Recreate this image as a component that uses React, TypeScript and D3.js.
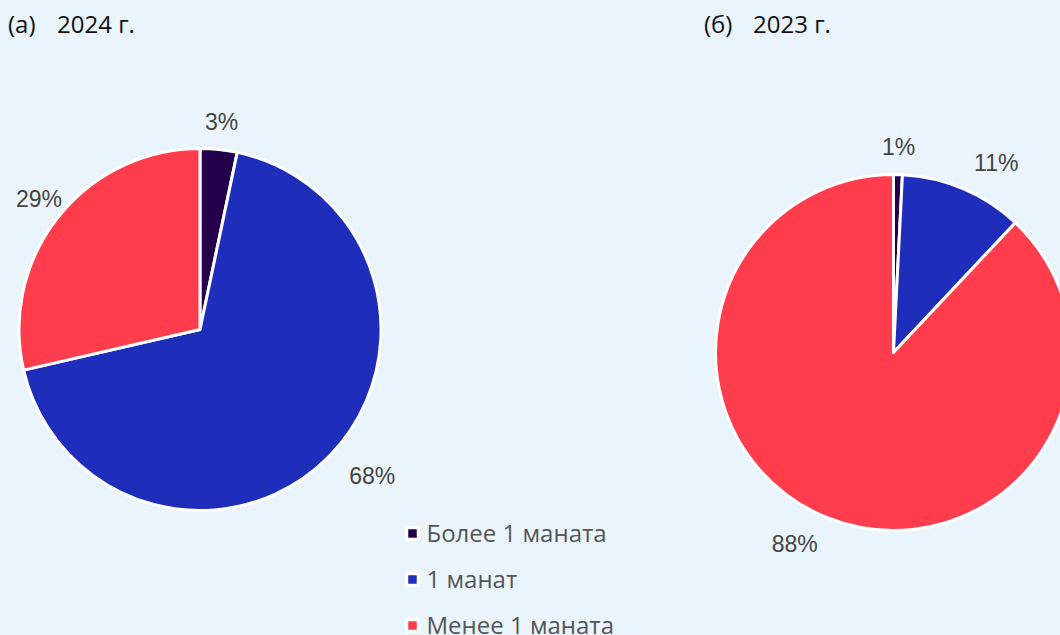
import React, { useEffect, useRef } from 'react';
import * as d3 from 'd3';

const categories = ['Более 1 маната', '1 манат', 'Менее 1 маната'];
const colors = ['#24004b', '#1f2dbb', '#ff3d4c'];
const values2024 = [3.3, 68.1, 28.6];
const values2023 = [0.8, 11.2, 88.0];
const labels2024 = ['3%', '68%', '29%'];
const labels2023 = ['1%', '11%', '88%'];
const titles = [['(а)', '2024 г.'], ['(б)', '2023 г.']];

const App = () => {
  const svgRef = useRef(null);

  useEffect(() => {
    const width = 1060;
    const height = 635;
    const svg = d3.select(svgRef.current)
      .attr('width', width)
      .attr('height', height);
    svg.selectAll('*').remove();

    svg.append('rect')
      .attr('width', width)
      .attr('height', height)
      .attr('fill', '#eaf4fd');

    const pies = [
      { cx: 200, cy: 329.5, r: 181, values: values2024, labels: labels2024, tx: 8 },
      { cx: 893.5, cy: 352.5, r: 178, values: values2023, labels: labels2023, tx: 704 },
    ];

    const pie = d3.pie().sort(null).value(d => d);
    const mid = d => (d.startAngle + d.endAngle) / 2;

    pies.forEach((p, i) => {
      const g = svg.append('g').attr('transform', `translate(${p.cx},${p.cy})`);
      const arcs = pie(p.values);
      const arc = d3.arc().innerRadius(0).outerRadius(p.r);

      g.selectAll('path')
        .data(arcs)
        .enter()
        .append('path')
        .attr('d', arc)
        .attr('fill', (d, j) => colors[j])
        .attr('stroke', '#fff')
        .attr('stroke-width', 3)
        .attr('stroke-linejoin', 'round');

      const R = p.r + 28;
      g.selectAll('text')
        .data(arcs)
        .enter()
        .append('text')
        .attr('y', d => -Math.cos(mid(d)) * R)
        .attr('dy', '0.35em')
        .attr('text-anchor', d => {
          const s = Math.sin(mid(d));
          return s > 0.2 ? 'start' : s < -0.2 ? 'end' : 'middle';
        })
        .attr('font-family', '"Liberation Sans", Arial, sans-serif')
        .attr('font-size', 23)
        .attr('fill', '#444')
        .text((d, j) => p.labels[j])
        .attr('x', function (d) {
          // keep labels inside the picture
          const x = Math.sin(mid(d)) * R;
          const len = this.getComputedTextLength();
          const s = Math.sin(mid(d));
          const left = s > 0.2 ? x : s < -0.2 ? x - len : x - len / 2;
          const minLeft = 16 - p.cx;
          return left < minLeft ? x + (minLeft - left) : x;
        });

      const t = svg.append('text')
        .attr('y', 33)
        .attr('font-family', '"Open Sans", "Noto Sans", sans-serif')
        .attr('font-size', 24)
        .attr('fill', '#111');
      t.append('tspan').attr('x', p.tx).text(titles[i][0]);
      t.append('tspan').attr('x', p.tx + 49).text(titles[i][1]);
    });

    const legend = svg.append('g').attr('transform', 'translate(412.5,533.5)');
    const item = legend.selectAll('g')
      .data(categories)
      .enter()
      .append('g')
      .attr('transform', (d, i) => `translate(0,${i * 46})`);
    item.append('rect')
      .attr('x', -6)
      .attr('y', -6)
      .attr('width', 12)
      .attr('height', 12)
      .attr('rx', 1.5)
      .attr('fill', (d, i) => colors[i])
      .attr('stroke', '#fff')
      .attr('stroke-width', 3.5);
    item.append('text')
      .attr('x', 14)
      .attr('dy', '0.35em')
      .attr('font-family', '"Open Sans", "Noto Sans", sans-serif')
      .attr('font-size', 24)
      .attr('fill', '#555')
      .text(d => d);
  }, []);

  return (
    <svg ref={svgRef} style={{ position: 'absolute', left: 0, top: 0 }}></svg>
  );
};

export default App;
